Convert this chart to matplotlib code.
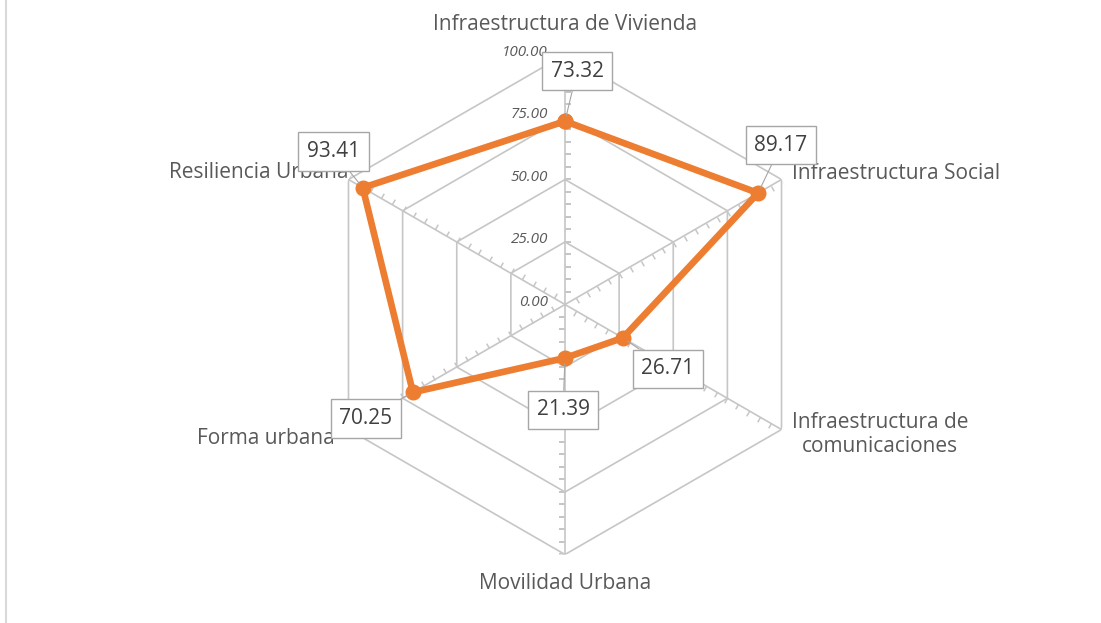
import numpy as np
import matplotlib
matplotlib.use("Agg")
import matplotlib.pyplot as plt
from matplotlib.markers import MarkerStyle
from matplotlib.transforms import Affine2D

# --- Daten ---
categorias = ["Infraestructura de Vivienda", "Infraestructura Social",
              "Infraestructura de\ncomunicaciones", "Movilidad Urbana",
              "Forma urbana", "Resiliencia Urbana"]
valores = [73.32, 89.17, 26.71, 21.39, 70.25, 93.41]
niveles = [0, 25, 50, 75, 100]
etiquetas_nivel = ["0.00", "25.00", "50.00", "75.00", "100.00"]

# --- Layout (Pixel) ---
W, H = 1101, 623
cx, cy, R = 565, 304.5, 250
gris_txt = "#595959"
gris_linea = "#c6c6c6"
naranja = "#ED7D31"
plt.rcParams["font.family"] = ["Open Sans", "DejaVu Sans"]

fig = plt.figure(figsize=(W / 100, H / 100), dpi=100)
ax = fig.add_axes([(cx - R) / W, (H - cy - R) / H, 2 * R / W, 2 * R / H],
                  projection="polar")
ax.set_theta_zero_location("N")
ax.set_theta_direction(-1)
ax.set_ylim(0, 100)
ax.axis("off")

n = len(categorias)
winkel = np.arange(n) * 2 * np.pi / n
winkel_zu = np.append(winkel, winkel[0])

# Sechseck-Gitter
for lv in niveles[1:]:
    ax.plot(winkel_zu, [lv] * (n + 1), color=gris_linea, lw=1.2, zorder=1)
# Speichen
for w in winkel:
    ax.plot([w, w], [0, 100], color=gris_linea, lw=1.2, zorder=1)
    # kleine Striche alle 5 Einheiten
    m = MarkerStyle([(0, 0), (1, 0)],
                    transform=Affine2D().rotate_deg(-np.degrees(w)))
    ax.plot([w] * 20, np.arange(5, 101, 5), linestyle="none", marker=m,
            markersize=8, markeredgecolor=gris_linea, markeredgewidth=1.1,
            zorder=1)

# Achsenbeschriftung (Werte)
for lv, txt in zip(niveles, etiquetas_nivel):
    ax.annotate(txt, xy=(0, lv), xytext=(-17, 2), textcoords="offset pixels",
                ha="right", va="center", fontsize=11, style="italic",
                color=gris_txt)

# Datenreihe
vals_zu = np.append(valores, valores[0])
ax.plot(winkel_zu, vals_zu, color=naranja, lw=4.8, marker="o",
        markersize=10.5, zorder=3, solid_joinstyle="round")

# Datenbeschriftungen
offsets = [(12, 50), (23, 48), (45, -31), (-2, -52), (-47, -26), (-29, 36)]
for w, v, (dx, dy) in zip(winkel, valores, offsets):
    ax.annotate(f"{v:.2f}", xy=(w, v), xytext=(dx, dy),
                textcoords="offset pixels", ha="center", va="center",
                fontsize=15, color="#404040", zorder=5,
                bbox=dict(boxstyle="square,pad=0.42", fc="white",
                          ec="#a6a6a6", lw=1.0),
                arrowprops=dict(arrowstyle="-", color="#a6a6a6", lw=0.8,
                                shrinkA=0, shrinkB=4))

# Kategorien
cat_off = [((0, 30), "center"), ((10, 6), "left"), ((10, -5), "left"),
           ((0, -29), "center"), ((-14, -9), "right"), ((0, 7), "right")]
for w, cat, ((dx, dy), ha) in zip(winkel, categorias, cat_off):
    ax.annotate(cat, xy=(w, 100), xytext=(dx, dy), textcoords="offset pixels",
                ha=ha, va="center", multialignment="center", fontsize=15,
                color=gris_txt, zorder=4)

# Rahmenlinie links
fig.add_artist(plt.Line2D([6 / W, 6 / W], [0, 1], color="#d9d9d9", lw=1.5))

fig.savefig("out.png", dpi=100)
